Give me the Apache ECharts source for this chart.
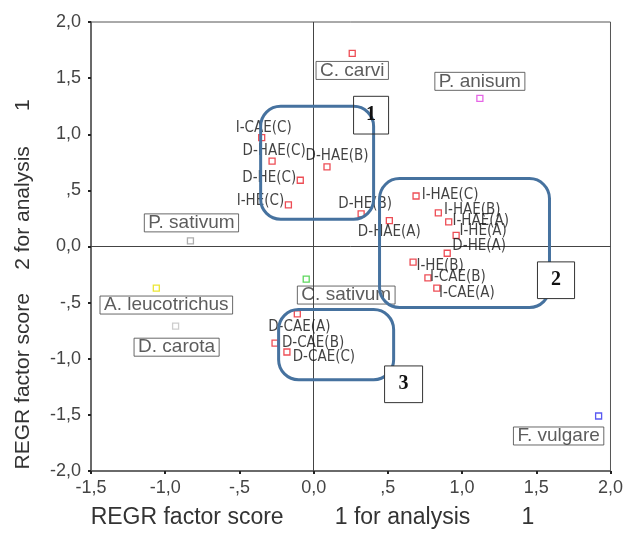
<!DOCTYPE html>
<html>
<head>
<meta charset="utf-8">
<script src="https://cdn.jsdelivr.net/npm/echarts@6/dist/echarts.min.js"></script>
<style>
html,body{margin:0;padding:0;background:#fff;}
#chart{width:626px;height:534px;}
</style>
</head>
<body>
<div id="chart"></div>
<script>
// ---- data ----
const extractNames = ['I-CAE(C)','D-HAE(C)','D-HAE(B)','D-HE(C)','I-HE(C)','D-HE(B)','D-HAE(A)',
  'I-HAE(C)','I-HAE(B)','I-HAE(A)','I-HE(A)','D-HE(A)','I-HE(B)','I-CAE(B)','I-CAE(A)',
  'D-CAE(A)','D-CAE(B)','D-CAE(C)'];
const extractX = [-0.35,-0.28,0.09,-0.09,-0.17,0.32,0.51,0.69,0.84,0.91,0.96,0.90,0.67,0.77,0.83,-0.11,-0.26,-0.18];
const extractY = [0.97,0.76,0.71,0.59,0.37,0.29,0.23,0.45,0.30,0.22,0.10,-0.06,-0.14,-0.28,-0.37,-0.60,-0.86,-0.94];

const speciesNames = ['C. carvi','P. anisum','P. sativum','A. leucotrichus','D. carota','C. sativum','F. vulgare'];
const speciesX = [0.26,1.12,-0.83,-1.06,-0.93,-0.05,1.92];
const speciesY = [1.72,1.32,0.05,-0.37,-0.71,-0.29,-1.51];

const xTicks = [-1.5,-1.0,-0.5,0,0.5,1.0,1.5,2.0];
const yTicks = [-2.0,-1.5,-1.0,-0.5,0,0.5,1.0,1.5,2.0];

const xAxisTitle = 'REGR factor score        1 for analysis        1';
const yAxisTitle = 'REGR factor score    2 for analysis      1';
const groupNames = ['1','2','3'];

// ---- layout / style (kept apart from data) ----
const xTitlePad = ' '.repeat(12);   // shifts the centred title left
const yTitlePad = ' '.repeat(13);   // shifts the centred title down
const extractLabelOffset = [[2,-10],[2,-10],[10,-11],[-31,-2],[-28,-4],[4,-10],[0,11],
  [34,-1],[34,-3],[32,-1],[27,-4],[32,-7],[27,4],[30,-1],[30,5],
  [2,13],[38,0],[37,5]];
const speciesColors = ['#e8202a','#e040e0','#9a9a9a','#e6e000','#c0c0c0','#33cc33','#3030ee'];
const speciesLabelOffset = [[0,17],[0,-17],[1,-18],[10,17],[1,21],[40,16],[-40,20]];
// group boxes in data units [x1, y1, x2, y2]
const groupBoxes = [[-0.357,1.249,0.404,0.243],[0.444,0.605,1.589,-0.543],[-0.236,-0.561,0.539,-1.187]];
const numberBoxes = [[0.269,1.338,0.505,1.002],[1.508,-0.137,1.758,-0.464],[0.478,-1.064,0.734,-1.391]];

function fmt(v){
  if (Math.abs(v) < 1e-9) return '0,0';
  let s = Math.abs(v).toFixed(1).replace('.', ',');
  if (Math.abs(v) < 1) s = s.replace(/^0/, '');
  return (v < 0 ? '-' : '') + s;
}

const labelFont = '"Liberation Sans Narrow","DejaVu Sans Condensed","Liberation Sans",sans-serif';
const mainFont = '"Liberation Sans",Arial,sans-serif';

const extractData = extractNames.map((n,i)=>({
  value:[extractX[i],extractY[i]], name:n,
  label:{show:true, position:'inside', offset:extractLabelOffset[i], formatter:n,
    color:'#111', fontSize:15, fontFamily:labelFont}
}));
const speciesData = speciesNames.map((n,i)=>({
  value:[speciesX[i],speciesY[i]], name:n,
  itemStyle:{borderColor:speciesColors[i], color:'#fff', borderWidth:1.3},
  label:{show:true, position:'inside', offset:speciesLabelOffset[i], formatter:n,
    color:'#333', fontSize:19, fontFamily:mainFont, borderColor:'#444', borderWidth:1,
    padding:[0,4,0,4], lineHeight:18}
}));

const chart = echarts.init(document.getElementById('chart'), null, {renderer:'canvas'});
const axisCommon = {
  interval:0.5,
  axisLine:{show:true, onZero:false, lineStyle:{color:'#555', width:1.5}},
  axisTick:{show:true, length:3, lineStyle:{color:'#222', width:2}},
  splitLine:{show:false},
  axisLabel:{formatter:fmt, color:'#444', fontSize:18, fontFamily:mainFont},
  nameLocation:'middle',
  nameTextStyle:{color:'#333', fontFamily:mainFont}
};
chart.setOption({
  animation:false,
  backgroundColor:'#fff',
  grid:{left:91, right:14, top:22, bottom:59, show:true, borderColor:'#555', borderWidth:1},
  xAxis:Object.assign({}, axisCommon, {type:'value', min:xTicks[0], max:xTicks[xTicks.length-1],
    name:xAxisTitle + xTitlePad, nameGap:35,
    nameTextStyle:Object.assign({}, axisCommon.nameTextStyle, {fontSize:23}),
    axisLabel:Object.assign({}, axisCommon.axisLabel, {margin:8})}),
  yAxis:Object.assign({}, axisCommon, {type:'value', min:yTicks[0], max:yTicks[yTicks.length-1],
    name:yAxisTitle + yTitlePad, nameGap:57,
    nameTextStyle:Object.assign({}, axisCommon.nameTextStyle, {fontSize:21}),
    axisLabel:Object.assign({}, axisCommon.axisLabel, {margin:10})}),
  series:[
    {type:'scatter', symbol:'rect', symbolSize:6, z:5,
      itemStyle:{color:'#fff', borderColor:'#e8202a', borderWidth:1.3},
      data:extractData,
      markLine:{silent:true, symbol:'none', animation:false,
        lineStyle:{color:'#444', width:1, type:'solid'}, label:{show:false},
        data:[{xAxis:0},{yAxis:0}]}
    },
    {type:'scatter', symbol:'rect', symbolSize:6, z:5, data:speciesData}
  ]
});

function px(p){ return chart.convertToPixel({gridIndex:0}, p); }
const graphics = [];
groupBoxes.forEach(b=>{
  const a = px([b[0],b[1]]), c = px([b[2],b[3]]);
  graphics.push({type:'rect', z:10, silent:true,
    shape:{x:a[0], y:a[1], width:c[0]-a[0], height:c[1]-a[1], r:20},
    style:{fill:null, stroke:'#46729f', lineWidth:3}});
});
numberBoxes.forEach((b,i)=>{
  const a = px([b[0],b[1]]), c = px([b[2],b[3]]);
  graphics.push({type:'rect', z:11, silent:true,
    shape:{x:a[0], y:a[1], width:c[0]-a[0], height:c[1]-a[1]},
    style:{fill: i===0 ? null : '#fff', stroke:'#333', lineWidth:1}});
  graphics.push({type:'text', z:12, silent:true,
    style:{x:(a[0]+c[0])/2, y:(a[1]+c[1])/2, text:groupNames[i], align:'center', verticalAlign:'middle',
      font:'bold 20px "Liberation Serif","DejaVu Serif",serif', fill:'#111'}});
});
chart.setOption({graphic:graphics});
</script>
</body>
</html>
